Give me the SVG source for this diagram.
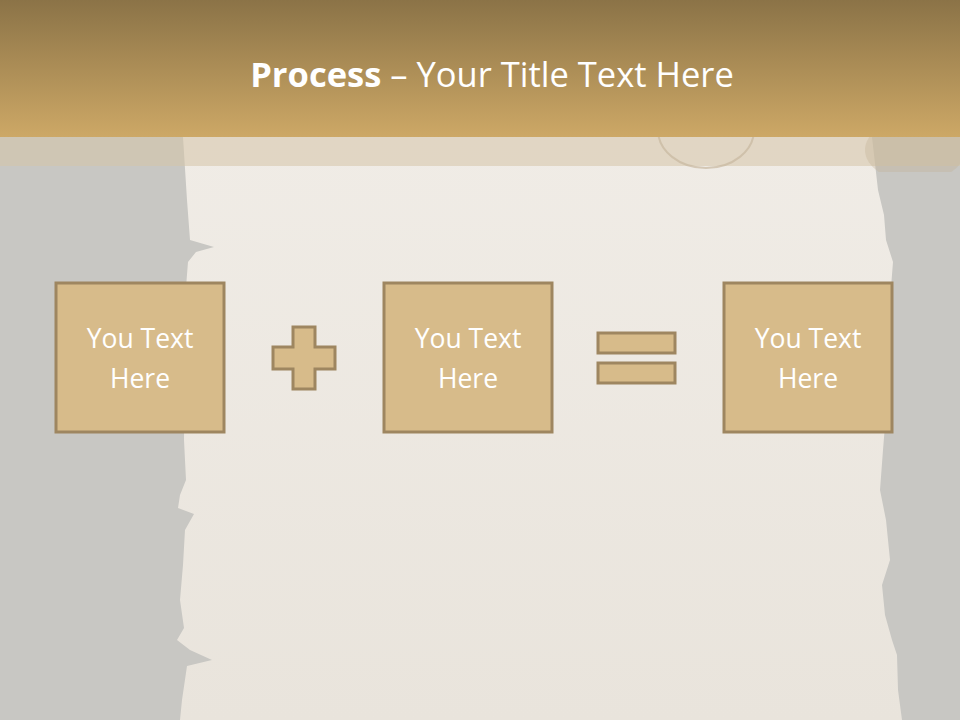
<svg xmlns="http://www.w3.org/2000/svg" width="960" height="720" viewBox="0 0 960 720">
<defs>
<linearGradient id="hdr" x1="0" y1="0" x2="0" y2="1">
<stop offset="0" stop-color="#8b7347"/>
<stop offset="1" stop-color="#cda866"/>
</linearGradient>
<linearGradient id="paper" x1="0" y1="0" x2="0" y2="1">
<stop offset="0" stop-color="#f0ece6"/>
<stop offset="1" stop-color="#e9e4dc"/>
</linearGradient>
<clipPath id="band"><rect x="0" y="137" width="960" height="35"/></clipPath>
<style>
.box{fill:#d7bb8a;stroke:#9e8660;stroke-width:3}
.lbl{font-family:"Open Sans","Liberation Sans",sans-serif;font-size:26.5px;fill:#ffffff;text-anchor:middle}
</style>
</defs>
<rect x="0" y="0" width="960" height="720" fill="#c8c7c3"/>
<path d="M183,137 L187,200 L190,240 L214,247 L196,252 L188,262 L185,300 L184,440 L186,480 L180,495 L178,508 L194,514 L185,530 L183,565 L180,600 L184,628 L177,640 L190,650 L212,660 L187,666 L182,700 L180,720 L902,720 L898,690 L897,655 L892,640 L885,615 L882,585 L890,560 L886,520 L880,490 L883,450 L887,400 L890,300 L893,262 L886,240 L884,215 L878,190 L872,137 Z" fill="url(#paper)"/>
<rect x="0" y="0" width="960" height="137" fill="url(#hdr)"/>
<rect x="0" y="137" width="960" height="29" fill="#d6c5a8" fill-opacity="0.55"/>
<g clip-path="url(#band)">
<ellipse cx="706" cy="130" rx="48" ry="38" fill="none" stroke="#c7b89f" stroke-width="2" opacity="0.7"/>
<ellipse cx="915" cy="150" rx="50" ry="32" fill="#c2b296" opacity="0.35"/>
</g>
<text x="492" y="87" font-family="'Open Sans','Liberation Sans',sans-serif" font-size="34.5" fill="#ffffff" text-anchor="middle"><tspan font-weight="bold">Process</tspan> – Your Title Text Here</text>
<g id="box1">
<rect class="box" x="56" y="283" width="168" height="149"/>
<text class="lbl" x="140" y="348">You Text</text>
<text class="lbl" x="140" y="388">Here</text>
</g>
<g id="plus">
<path class="box" d="M293,327 H315 V347 H335 V369 H315 V389 H293 V369 H273 V347 H293 Z"/>
</g>
<g id="box2">
<rect class="box" x="384" y="283" width="168" height="149"/>
<text class="lbl" x="468" y="348">You Text</text>
<text class="lbl" x="468" y="388">Here</text>
</g>
<g id="equals">
<rect class="box" x="598" y="333" width="77" height="20"/>
<rect class="box" x="598" y="363" width="77" height="20"/>
</g>
<g id="box3">
<rect class="box" x="724" y="283" width="168" height="149"/>
<text class="lbl" x="808" y="348">You Text</text>
<text class="lbl" x="808" y="388">Here</text>
</g>
<g id="connectors"/>
</svg>
